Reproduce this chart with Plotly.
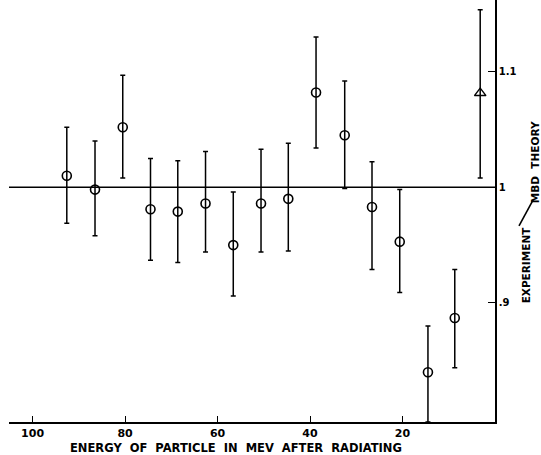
import plotly.graph_objects as go

# Data
energy = [92.6, 86.5, 80.5, 74.5, 68.6, 62.6, 56.6, 50.6, 44.7, 38.7, 32.5, 26.6, 20.6, 14.5, 8.7]
ratio = [1.010, 0.998, 1.052, 0.981, 0.979, 0.986, 0.950, 0.986, 0.990, 1.082, 1.045, 0.983, 0.953, 0.840, 0.887]
err_up = [0.042, 0.042, 0.045, 0.044, 0.044, 0.045, 0.046, 0.047, 0.048, 0.048, 0.047, 0.039, 0.045, 0.040, 0.042]
err_down = [0.041, 0.040, 0.044, 0.044, 0.044, 0.042, 0.044, 0.042, 0.045, 0.048, 0.046, 0.054, 0.044, 0.043, 0.043]

tri_energy = [3.2]
tri_ratio = [1.0815]
tri_err_up = [0.072]
tri_err_down = [0.0735]

x_ticks = [100, 80, 60, 40, 20]
y_ticks = [0.9, 1.0, 1.1]
y_ticktext = [".9", "1", "1.1"]

FONT = "DejaVu Sans"

fig = go.Figure()

fig.add_shape(type="line", xref="paper", yref="y", x0=0, x1=1, y0=1, y1=1,
              line=dict(color="black", width=1.6), layer="below")

fig.add_trace(go.Scatter(
    x=energy, y=ratio, mode="markers",
    marker=dict(symbol="circle-open", size=9, color="black", line=dict(width=1.6)),
    error_y=dict(type="data", symmetric=False, array=err_up, arrayminus=err_down,
                 color="black", thickness=1.5, width=2.5),
    showlegend=False, cliponaxis=False,
))

fig.add_trace(go.Scatter(
    x=tri_energy, y=tri_ratio, mode="markers",
    marker=dict(symbol="triangle-up-open", size=10, color="black", line=dict(width=1.4)),
    error_y=dict(type="data", symmetric=False, array=tri_err_up, arrayminus=tri_err_down,
                 color="black", thickness=1.5, width=2.5),
    showlegend=False, cliponaxis=False,
))

fig.update_xaxes(
    range=[105.1, 0], showgrid=False, zeroline=False,
    showline=True, linecolor="black", linewidth=1.6,
    ticks="inside", ticklen=6, tickwidth=1.4, tickcolor="black",
    tickvals=x_ticks, ticktext=[str(v) for v in x_ticks],
    tickfont=dict(family=FONT, size=11, color="black", weight="bold"),
)
fig.update_yaxes(
    range=[0.797, 1.162], side="right", showgrid=False, zeroline=False,
    showline=True, linecolor="black", linewidth=1.6,
    ticks="inside", ticklen=7, tickwidth=1.4, tickcolor="black",
    tickvals=y_ticks, ticktext=y_ticktext,
    tickfont=dict(family=FONT, size=10, color="black", weight="bold"),
)

fig.add_annotation(text="ENERGY  OF  PARTICLE  IN  MEV  AFTER  RADIATING",
                   xref="paper", yref="paper", x=0.467, y=-0.061,
                   xanchor="center", yanchor="middle", showarrow=False,
                   font=dict(family=FONT, size=11.5, color="black", weight="bold"))
fig.add_annotation(text="EXPERIMENT", textangle=-90,
                   xref="paper", yref="paper", x=1.0645, y=0.372,
                   xanchor="center", yanchor="middle", showarrow=False,
                   font=dict(family=FONT, size=10.5, color="black", weight="bold"))
fig.add_annotation(text="MBD  THEORY", textangle=-90,
                   xref="paper", yref="paper", x=1.0825, y=0.616,
                   xanchor="center", yanchor="middle", showarrow=False,
                   font=dict(family=FONT, size=10.5, color="black", weight="bold"))
fig.add_shape(type="line", xref="paper", yref="paper",
              x0=1.0494, y0=0.4645, x1=1.0782, y1=0.526,
              line=dict(color="black", width=1.6))

fig.update_layout(
    width=541, height=455,
    margin=dict(l=9, r=46, t=0, b=33),
    paper_bgcolor="white", plot_bgcolor="white",
)

fig.write_html("out.html", config={"displayModeBar": False},
               post_script="document.body.style.margin='0';document.body.style.overflow='hidden';")
